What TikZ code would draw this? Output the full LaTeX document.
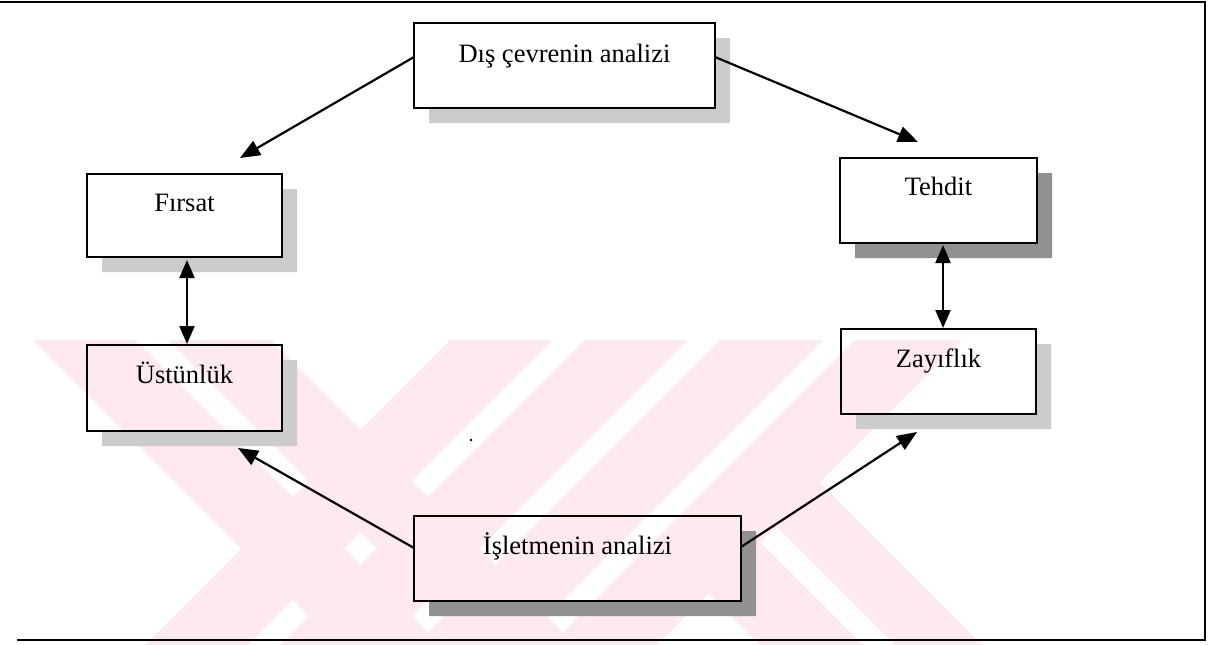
\documentclass[tikz,border=0pt]{standalone}
\usepackage{fontspec}
\setmainfont{Liberation Serif}
\usetikzlibrary{arrows.meta,calc}
\definecolor{wmpink}{RGB}{253,233,238}
\definecolor{shlight}{RGB}{204,204,204}
\definecolor{shdark}{RGB}{145,145,145}
\begin{document}
\begin{tikzpicture}[x=1pt,y=-1pt,
  box/.style={draw=black, line width=1.8pt, anchor=north west, inner sep=0pt, outer sep=0pt},
  lbl/.style={anchor=base, inner sep=0pt, font=\fontsize{26.5}{30}\selectfont},
  conn/.style={line width=2.2pt, -{Triangle[length=20pt,width=16pt]}},
  biconn/.style={line width=2.2pt, {Triangle[length=18pt,width=15pt]}-{Triangle[length=18pt,width=15pt]}},
  frame/.style={line width=2pt}]
\useasboundingbox (0,0) rectangle (1218,645);

% pale striped emblem in the lower half
\begin{scope}
  \clip (0,340) rectangle (1218,645);
  % left arm, two "\" bands (x-y constant)
  \foreach \a/\b in {-307/-204,-172/-69}
    \fill[wmpink] (\a+340,340) -- (\b+340,340) -- (\b+645,645) -- (\a+645,645) -- cycle;
  % right arm, four "/" bands (x+y constant)
  \foreach \a/\b in {790/893,925/1028,1060/1163,1195/1302}
    \fill[wmpink] (\a-340,340) -- (\b-340,340) -- (\b-645,645) -- (\a-645,645) -- cycle;
  % lower leg, two "\" bands starting at the outer arm
  \foreach \a/\b in {115/218,250/337}
    \fill[wmpink] ({(\a+1195)/2},{(1195-\a)/2}) -- ({(\b+1195)/2},{(1195-\b)/2})
      -- (\b+645,645) -- (\a+645,645) -- cycle;
\end{scope}

% boxes
\node[box, minimum width=301pt, minimum height=85pt] (dis) at (414,23) {};
\node[box, minimum width=195pt, minimum height=83pt] (firsat) at (87,174) {};
\node[box, minimum width=197pt, minimum height=85pt] (tehdit) at (840,158) {};
\node[box, minimum width=195pt, minimum height=86pt] (ustun) at (87,345) {};
\node[box, minimum width=195pt, minimum height=85pt] (zayif) at (841,329) {};
\node[box, minimum width=327pt, minimum height=85pt] (isl) at (414,516) {};

% drop shadows: L-shaped strip to the right of and below each box
\foreach \n/\c in {dis/shlight,firsat/shlight,ustun/shlight,zayif/shlight,tehdit/shdark,isl/shdark}
  \fill[\c] ($(\n.north east)+(0,15)$) -- ($(\n.north east)+(15,15)$)
      -- ($(\n.south east)+(15,15)$) -- ($(\n.south west)+(15,15)$)
      -- ($(\n.south west)+(15,0)$) -- (\n.south east) -- cycle;

% box outlines on top of the shadows
\foreach \n in {dis,firsat,tehdit,ustun,zayif,isl}
  \draw[line width=1.8pt] (\n.north west) rectangle (\n.south east);

% labels
\node[lbl] (dis-t) at ($(dis.north)+(0,39)$) {Dış çevrenin analizi};
\node[lbl] (firsat-t) at ($(firsat.north)+(0,37)$) {Fırsat};
\node[lbl] (tehdit-t) at ($(tehdit.north)+(0,37)$) {Tehdit};
\node[lbl] (ustun-t) at ($(ustun.north)+(0,38)$) {Üstünlük};
\node[lbl] (zayif-t) at ($(zayif.north)+(0,38)$) {Zayıflık};
\node[lbl] (isl-t) at ($(isl.north)+(0,38)$) {İşletmenin analizi};

% arrow tips
\coordinate (tipF) at (240,158);
\coordinate (tipT) at (918,142);
\coordinate (tipU) at (238,448);
\coordinate (tipZ) at (917,432);

\draw[conn] ($(dis.north west)+(0,34)$) -- (tipF);
\draw[conn] ($(dis.north east)+(0,34)$) -- (tipT);
\draw[conn] ($(isl.north west)+(0,32)$) -- (tipU);
\draw[conn] ($(isl.north east)+(0,31)$) -- (tipZ);

\draw[biconn] ($(firsat.south west)+(100,3)$) -- ($(ustun.north west)+(100,-1)$);
\draw[biconn] ($(tehdit.south west)+(103,2)$) -- ($(zayif.north west)+(102,-1)$);

% small speck
\fill (471,440) circle (1.3pt);

% frame: top, right and bottom rules
\coordinate (fTL) at (0,2);
\coordinate (fTR) at (1205,2);
\coordinate (fBR) at (1205,640);
\coordinate (fBL) at (17,640);
\draw[frame] (fTL) -- (fTR) -- (fBR) -- (fBL);
\end{tikzpicture}
\end{document}
